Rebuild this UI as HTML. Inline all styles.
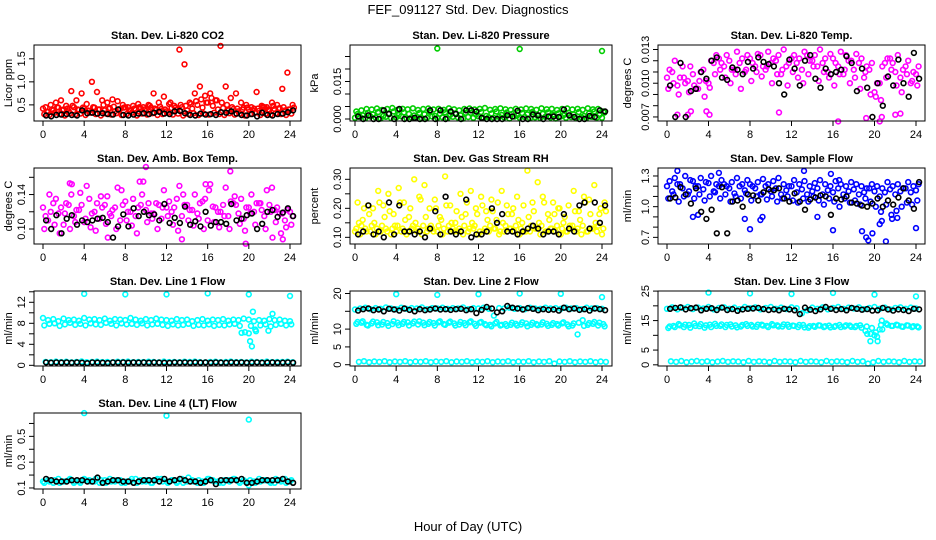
<!DOCTYPE html>
<html><head><meta charset="utf-8"><style>
html,body{margin:0;padding:0;background:#fff;}
svg{display:block;font-family:"Liberation Sans",Arial,sans-serif;}
</style></head><body>
<svg id="chart" width="936" height="540" viewBox="0 0 936 540">
<text x="468" y="14" font-size="13" text-anchor="middle">FEF_091127  Std. Dev. Diagnostics</text>
<text x="468" y="531" font-size="13" text-anchor="middle">Hour of Day (UTC)</text>
</svg>
<script>
// ---- data (values every 0.5 h per array) ----
const xTicks=[0,4,8,12,16,20,24];
const co2A=[0.42,0.35,0.38,0.44,0.40,0.36,0.45,0.39,0.42,0.37,0.44,0.40,0.38,0.43,0.36,0.41,0.45,0.38,0.40,0.42,0.37,0.44,0.39,0.41,0.36,0.43,0.40,0.45,0.38,0.42,0.50,0.44,0.55,0.48,0.40,0.43,0.38,0.41,0.36,0.44,0.40,0.42,0.37,0.45,0.39,0.41,0.43,0.38,0.40];
const co2B=[0.30,0.28,0.33,0.30,0.27,0.32,0.29,0.31,0.28,0.33,0.30,0.27,0.31,0.29,0.32,0.28,0.30,0.33,0.27,0.31,0.29,0.32,0.28,0.30,0.33,0.29,0.31,0.27,0.30,0.32,0.28,0.31,0.29,0.33,0.30,0.28,0.32,0.29,0.31,0.27,0.30,0.33,0.28,0.31,0.29,0.32,0.30,0.28,0.31];
const co2C=[0.45,0.50,0.55,0.60,0.48,0.80,0.60,0.75,0.52,1.00,0.78,0.60,0.55,0.62,0.58,0.50,0.45,0.48,0.52,0.45,0.50,0.75,0.55,0.68,0.52,0.48,1.70,1.38,0.55,0.75,0.90,0.70,0.75,0.60,1.78,0.90,0.65,0.75,0.55,0.50,0.45,0.78,0.48,0.45,0.55,0.50,0.85,1.20,0.50];
const co2D=[0.35,0.40,0.45,0.38,0.42,0.48,0.40,0.44,0.38,0.45,0.40,0.50,0.42,0.46,0.40,0.44,0.38,0.42,0.45,0.40,0.48,0.42,0.46,0.40,0.55,0.44,0.50,0.48,0.52,0.58,0.62,0.55,0.65,0.60,0.55,0.50,0.45,0.42,0.40,0.44,0.38,0.42,0.46,0.40,0.48,0.42,0.45,0.40,0.44];
const co2K=[0.27,0.25,0.28,0.29,0.30,0.28,0.27,0.38,0.32,0.33,0.31,0.32,0.30,0.29,0.40,0.28,0.27,0.29,0.31,0.32,0.30,0.33,0.35,0.31,0.30,0.36,0.37,0.32,0.28,0.27,0.31,0.29,0.30,0.28,0.34,0.33,0.36,0.31,0.28,0.27,0.30,0.25,0.33,0.28,0.27,0.30,0.31,0.34,0.38];
const co2Ticks=[0.5,1.0,1.5], co2Labels=["0.5","1.0","1.5"];

const prA=[0.0005,0.0008,0.0003,0.0010,0.0006,0.0002,0.0009,0.0004,0.0007,0.0011,0.0003,0.0006,0.0008,0.0002,0.0005,0.0010,0.0004,0.0007,0.0003,0.0009,0.0006,0.0002,0.0008,0.0005,0.0011,0.0003,0.0007,0.0004,0.0009,0.0006,0.0002,0.0010,0.0005,0.0008,0.0003,0.0007,0.0004,0.0009,0.0006,0.0002,0.0010,0.0005,0.0008,0.0003,0.0007,0.0004,0.0009,0.0006,0.0005];
const prB=[0.0030,0.0035,0.0040,0.0038,0.0042,0.0036,0.0040,0.0044,0.0037,0.0041,0.0039,0.0043,0.0036,0.0040,0.0042,0.0038,0.0041,0.0037,0.0043,0.0039,0.0035,0.0040,0.0042,0.0038,0.0041,0.0044,0.0037,0.0040,0.0043,0.0039,0.0036,0.0041,0.0038,0.0042,0.0040,0.0037,0.0043,0.0039,0.0041,0.0036,0.0040,0.0042,0.0038,0.0041,0.0037,0.0043,0.0039,0.0040,0.0030];
const prC=[0.0020,0.0015,0.0025,0.0018,0.0028,0.0012,0.0022,0.0030,0.0016,0.0026,0.0020,0.0014,0.0024,0.0019,0.0029,0.0013,0.0021,0.0027,0.0017,0.0023,0.0015,0.0025,0.0025,0.0018,0.0028,0.0012,0.0022,0.0030,0.0016,0.0026,0.0020,0.0014,0.0024,0.0019,0.0029,0.0013,0.0021,0.0027,0.0017,0.0023,0.0015,0.0025,0.0018,0.0028,0.0012,0.0022,0.0030,0.0016,0.0026];
const prK=[0.0010,0.0000,0.0015,0.0000,0.0000,0.0035,0.0020,0.0000,0.0040,0.0000,0.0000,0.0005,0.0000,0.0000,0.0035,0.0000,0.0035,0.0000,0.0030,0.0020,0.0000,0.0035,0.0035,0.0030,0.0005,0.0000,0.0000,0.0000,0.0000,0.0015,0.0010,0.0033,0.0000,0.0000,0.0018,0.0015,0.0000,0.0010,0.0010,0.0008,0.0038,0.0015,0.0008,0.0000,0.0000,0.0012,0.0008,0.0035,0.0030];
const prOutT=[8,16,24], prOutV=[0.0282,0.0280,0.0272];
const prTicks=[0,0.005,0.010,0.015,0.020,0.025], prLabels=["0.000","","","0.015","",""];

const ltA=[0.0105,0.0110,0.0098,0.0115,0.0102,0.0108,0.0095,0.0112,0.0100,0.0118,0.0122,0.0115,0.0120,0.0112,0.0118,0.0110,0.0122,0.0115,0.0125,0.0112,0.0118,0.0120,0.0108,0.0115,0.0122,0.0118,0.0112,0.0125,0.0120,0.0115,0.0118,0.0110,0.0122,0.0115,0.0108,0.0120,0.0112,0.0118,0.0105,0.0112,0.0092,0.0100,0.0118,0.0122,0.0110,0.0105,0.0115,0.0100,0.0108];
const ltB=[0.0095,0.0100,0.0090,0.0105,0.0092,0.0098,0.0102,0.0088,0.0096,0.0108,0.0112,0.0105,0.0100,0.0108,0.0095,0.0112,0.0102,0.0110,0.0106,0.0115,0.0100,0.0108,0.0112,0.0098,0.0110,0.0105,0.0100,0.0108,0.0115,0.0102,0.0110,0.0105,0.0098,0.0108,0.0112,0.0100,0.0105,0.0095,0.0110,0.0090,0.0088,0.0085,0.0105,0.0112,0.0098,0.0092,0.0108,0.0102,0.0098];
const ltC=[0.0112,0.0120,0.0105,0.0100,0.0115,0.0095,0.0110,0.0102,0.0120,0.0125,0.0118,0.0125,0.0112,0.0128,0.0122,0.0125,0.0118,0.0126,0.0115,0.0128,0.0122,0.0125,0.0130,0.0118,0.0125,0.0122,0.0128,0.0120,0.0125,0.0130,0.0122,0.0126,0.0118,0.0128,0.0125,0.0120,0.0126,0.0122,0.0115,0.0118,0.0100,0.0115,0.0122,0.0118,0.0125,0.0112,0.0120,0.0110,0.0115];
const ltK=[0.0098,0.0070,0.0118,0.0070,0.0093,0.0095,0.0110,0.0104,0.0120,0.0123,0.0105,0.0103,0.0114,0.0112,0.0108,0.0119,0.0113,0.0123,0.0119,0.0117,0.0115,0.0100,0.0090,0.0121,0.0113,0.0098,0.0120,0.0125,0.0104,0.0096,0.0113,0.0108,0.0110,0.0112,0.0124,0.0118,0.0093,0.0113,0.0096,0.0070,0.0100,0.0080,0.0106,0.0098,0.0121,0.0100,0.0088,0.0127,0.0104];
const ltOutT=[1.0,2.0,2.3,3.8,4.1,10.8,16.5,19.2,20.5,20.7,22.0,22.5], ltOutV=[0.0072,0.0072,0.0075,0.0075,0.0072,0.0074,0.0066,0.0069,0.0066,0.0070,0.0072,0.0073];
const ltTicks=[0.007,0.008,0.009,0.010,0.011,0.012,0.013], ltLabels=["0.007","","","0.010","","","0.013"];

const abA=[0.125,0.110,0.130,0.118,0.105,0.128,0.115,0.122,0.108,0.135,0.120,0.112,0.128,0.118,0.125,0.110,0.132,0.120,0.115,0.128,0.122,0.118,0.130,0.112,0.125,0.120,0.135,0.115,0.128,0.122,0.118,0.132,0.110,0.126,0.120,0.128,0.115,0.130,0.118,0.112,0.125,0.120,0.130,0.115,0.128,0.122,0.118,0.110,0.120];
const abB=[0.100,0.140,0.105,0.095,0.118,0.100,0.108,0.142,0.112,0.102,0.098,0.138,0.106,0.115,0.100,0.145,0.110,0.104,0.095,0.140,0.108,0.112,0.100,0.125,0.115,0.105,0.098,0.140,0.110,0.104,0.112,0.100,0.145,0.108,0.102,0.115,0.100,0.138,0.106,0.098,0.118,0.105,0.130,0.100,0.120,0.108,0.095,0.102,0.105];
const abC=[0.115,0.120,0.135,0.125,0.130,0.140,0.122,0.128,0.150,0.118,0.130,0.125,0.138,0.122,0.148,0.128,0.120,0.135,0.125,0.155,0.130,0.118,0.128,0.145,0.132,0.125,0.150,0.128,0.122,0.140,0.130,0.135,0.152,0.125,0.120,0.148,0.132,0.128,0.135,0.125,0.140,0.130,0.122,0.145,0.148,0.125,0.118,0.122,0.115];
const abK=[0.110,0.100,0.116,0.095,0.112,0.116,0.105,0.110,0.108,0.110,0.112,0.113,0.108,0.090,0.103,0.117,0.103,0.124,0.115,0.120,0.116,0.117,0.110,0.129,0.107,0.113,0.107,0.126,0.105,0.109,0.103,0.120,0.104,0.108,0.108,0.106,0.129,0.110,0.112,0.116,0.118,0.100,0.106,0.120,0.122,0.114,0.119,0.124,0.115];
const abOutT=[2.6,2.8,9.4,10.0,18.2,15.8,6.3,13.5,19.7,22.3,23.3], abOutV=[0.153,0.152,0.155,0.172,0.167,0.152,0.090,0.088,0.083,0.090,0.088];
const abTicks=[0.10,0.12,0.14,0.16], abLabels=["0.10","","0.14",""];

const rhA=[0.12,0.11,0.13,0.12,0.11,0.12,0.13,0.11,0.12,0.12,0.11,0.13,0.12,0.11,0.12,0.13,0.12,0.11,0.12,0.13,0.12,0.11,0.12,0.13,0.11,0.12,0.12,0.13,0.11,0.12,0.13,0.12,0.11,0.12,0.12,0.13,0.11,0.12,0.13,0.12,0.11,0.12,0.13,0.12,0.11,0.12,0.13,0.12,0.11];
const rhB=[0.13,0.14,0.12,0.14,0.13,0.14,0.12,0.13,0.14,0.13,0.12,0.14,0.13,0.14,0.13,0.12,0.14,0.13,0.14,0.12,0.13,0.14,0.13,0.14,0.12,0.13,0.14,0.13,0.12,0.14,0.13,0.14,0.13,0.12,0.14,0.13,0.14,0.12,0.13,0.14,0.13,0.12,0.14,0.13,0.14,0.12,0.13,0.14,0.13];
const rhC=[0.22,0.16,0.21,0.20,0.26,0.21,0.25,0.18,0.27,0.22,0.17,0.30,0.24,0.28,0.20,0.23,0.17,0.31,0.21,0.15,0.25,0.18,0.26,0.20,0.24,0.19,0.23,0.16,0.26,0.21,0.18,0.24,0.15,0.33,0.22,0.29,0.24,0.18,0.22,0.20,0.15,0.21,0.26,0.19,0.24,0.23,0.28,0.18,0.22];
const rhD=[0.15,0.20,0.18,0.15,0.22,0.17,0.19,0.14,0.22,0.16,0.20,0.15,0.23,0.17,0.14,0.20,0.16,0.21,0.15,0.19,0.17,0.22,0.15,0.18,0.21,0.16,0.19,0.22,0.15,0.18,0.20,0.16,0.21,0.17,0.19,0.15,0.22,0.16,0.18,0.20,0.17,0.14,0.19,0.16,0.22,0.18,0.15,0.20,0.19];
const rhK=[0.11,0.12,0.21,0.11,0.12,0.10,0.22,0.11,0.21,0.12,0.12,0.11,0.12,0.10,0.13,0.19,0.11,0.24,0.12,0.11,0.12,0.23,0.10,0.11,0.11,0.12,0.20,0.15,0.18,0.12,0.12,0.11,0.12,0.13,0.14,0.13,0.11,0.12,0.12,0.11,0.18,0.13,0.12,0.21,0.22,0.13,0.22,0.15,0.21];
const rhTicks=[0.10,0.15,0.20,0.25,0.30], rhLabels=["0.10","","0.20","","0.30"];

const sfA=[1.20,1.15,1.22,1.18,1.12,1.25,1.20,1.17,1.23,1.15,1.20,1.22,1.18,1.13,1.20,1.16,1.22,1.18,1.12,1.20,1.15,1.18,1.12,1.16,1.20,1.14,1.17,1.12,1.15,1.18,1.12,1.16,1.14,1.18,1.12,1.15,1.17,1.12,1.14,1.18,1.15,1.10,1.14,1.17,1.12,1.15,1.18,1.14,1.16];
const sfB=[1.08,1.12,1.05,1.10,1.15,1.08,1.12,1.06,1.10,1.14,1.08,1.12,1.05,1.10,1.08,1.13,1.06,1.10,1.12,1.07,1.10,1.05,1.08,1.10,1.06,1.04,1.08,1.05,1.10,1.06,1.02,1.08,1.05,1.00,1.08,1.04,1.06,1.02,1.08,1.05,1.00,0.95,1.02,0.92,0.96,1.00,1.04,1.02,1.06];
const sfC=[1.25,1.28,1.22,1.30,1.26,1.20,1.28,1.24,1.30,1.22,1.26,1.20,1.24,1.28,1.22,1.26,1.20,1.24,1.27,1.22,1.25,1.28,1.22,1.20,1.26,1.22,1.25,1.20,1.23,1.26,1.22,1.20,1.25,1.22,1.20,1.24,1.22,1.20,1.18,1.22,1.20,1.18,1.24,1.20,1.22,1.18,1.24,1.20,1.22];
const sfK=[1.08,1.09,1.19,1.12,1.03,1.18,0.95,0.88,0.97,0.74,1.19,0.74,1.05,1.06,1.00,1.12,1.11,1.06,1.14,1.17,1.16,1.18,1.08,1.05,1.13,1.05,0.97,1.07,1.09,1.11,1.10,0.92,1.08,1.07,1.10,1.04,1.03,1.01,1.00,1.03,1.08,1.00,1.06,1.02,1.09,1.18,1.06,0.98,1.24];
const sfOutT=[1.0,2.5,3.0,5.0,7.5,8.0,9.0,9.2,13.2,14.5,15.8,16.0,16.6,18.8,19.2,19.4,19.8,20.5,20.7,21.1,21.7,22.2,24.0], sfOutV=[1.35,0.90,0.92,1.33,0.88,0.78,0.87,0.90,1.35,0.90,1.32,0.77,1.26,0.76,0.70,0.67,0.74,0.83,0.86,0.66,0.88,0.89,0.79];
const sfTicks=[0.7,0.8,0.9,1.0,1.1,1.2,1.3], sfLabels=["0.7","","","1.0","","","1.3"];

const l1A=[9.0,8.6,8.8,8.4,8.9,8.6,8.7,8.5,9.0,8.7,8.8,8.6,8.9,8.5,8.8,8.7,8.6,9.0,8.7,8.5,8.8,8.6,8.9,8.7,8.6,8.5,8.8,8.6,8.7,8.4,8.6,8.8,8.5,8.7,8.6,8.8,8.5,8.7,8.6,8.9,8.7,8.4,8.6,8.5,8.8,8.6,8.7,8.5,8.4];
const l1B=[7.6,7.9,8.0,7.5,7.8,8.1,7.7,7.9,7.6,8.0,7.8,7.7,8.1,7.9,7.6,8.0,7.8,7.9,7.7,8.0,7.6,7.8,7.9,7.7,7.5,7.8,7.6,7.7,7.9,7.5,7.7,7.6,7.8,7.5,7.7,7.6,7.8,7.9,7.5,6.3,4.6,6.8,7.6,7.8,7.4,7.7,7.9,7.6,7.8];
const l1C=[0.65,0.60,0.70,0.62,0.68,0.58,0.66,0.72,0.60,0.64,0.70,0.62,0.66,0.58,0.68,0.64,0.70,0.60,0.66,0.62,0.68,0.64,0.58,0.70,0.62,0.66,0.60,0.68,0.64,0.70,0.62,0.58,0.66,0.68,0.60,0.64,0.70,0.62,0.66,0.58,0.68,0.64,0.60,0.70,0.62,0.66,0.64,0.68,0.60];
const l1K=[0.55,0.50,0.55,0.52,0.55,0.50,0.56,0.50,0.40,0.55,0.52,0.50,0.45,0.55,0.52,0.55,0.50,0.55,0.52,0.56,0.50,0.55,0.52,0.50,0.48,0.55,0.52,0.55,0.50,0.55,0.52,0.56,0.50,0.55,0.52,0.50,0.55,0.52,0.55,0.50,0.52,0.55,0.50,0.52,0.55,0.50,0.52,0.55,0.50];
const l1OutT=[4,8,12,16,20,24,19.3,20.0,20.3,20.4,20.7,21.9,22.3,20.2], l1OutV=[13.6,13.5,13.5,13.7,13.5,13.2,6.2,6.1,3.6,10.2,6.5,6.6,9.8,7.5];
const l1Ticks=[0,2,4,6,8,10,12,14], l1Labels=["0","","4","","8","","12",""];

const l2A=[15.5,15.8,16.0,15.6,15.9,15.7,16.1,15.8,15.6,16.0,15.7,15.9,15.8,16.1,15.6,15.9,15.8,16.0,15.7,15.9,15.8,16.1,15.6,15.9,15.8,16.0,15.7,13.8,15.9,15.8,16.0,15.7,15.9,15.6,16.0,15.8,15.7,16.0,15.8,15.9,15.7,16.0,15.8,15.9,15.6,16.0,15.8,15.9,15.7];
const l2B=[11.5,11.8,11.2,11.6,11.9,11.3,11.7,11.4,11.8,11.5,11.9,11.6,11.3,11.8,11.5,11.7,11.9,11.4,11.8,11.6,11.3,11.7,11.9,11.5,11.8,11.4,11.2,11.6,11.0,11.4,11.2,11.5,11.3,11.6,11.2,11.4,11.3,11.5,11.2,11.4,11.6,11.3,11.0,8.5,12.5,11.2,11.5,11.0,11.4];
const l2C=[12.0,12.2,11.0,12.1,11.1,12.0,10.9,12.2,11.1,12.0,11.0,12.1,12.2,11.1,12.0,11.0,12.2,11.2,12.1,11.0,12.0,11.1,12.2,10.9,12.0,11.1,10.8,12.0,11.2,10.9,11.8,11.0,11.9,10.8,11.8,11.1,11.9,10.9,11.7,11.0,11.9,10.8,11.6,11.8,10.9,11.7,12.0,11.8,10.8];
const l2D=[0.8,1.0,0.7,0.9,0.8,1.0,0.7,0.9,0.8,1.0,0.7,0.9,0.8,1.0,0.7,0.9,0.8,1.0,0.7,0.9,0.8,1.0,0.7,0.9,0.8,1.0,0.7,0.9,0.8,1.0,0.7,0.9,0.8,1.0,0.7,0.9,0.8,1.0,0.3,0.9,0.8,1.0,0.7,0.9,0.8,1.0,0.7,0.9,0.8];
const l2K=[15.2,15.6,15.8,15.3,15.5,15.0,15.7,15.5,15.2,15.8,15.4,15.0,15.6,15.3,15.5,15.8,15.5,15.6,15.4,15.6,15.7,15.3,15.6,14.5,15.4,16.2,15.8,14.7,15.0,16.5,16.0,15.8,15.5,15.9,15.7,15.3,15.6,15.4,15.5,15.2,16.0,15.6,15.8,15.4,15.6,15.2,15.8,15.6,15.3];
const l2OutT=[4,8,12,16,20,24], l2OutV=[19.8,19.6,19.8,20.0,19.9,19.0];
const l2Ticks=[0,5,10,15,20], l2Labels=["0","5","10","","20"];

const l3A=[19.0,19.5,18.8,19.3,19.6,18.9,19.4,19.1,19.6,18.8,19.3,19.5,19.0,19.4,18.9,19.6,19.2,19.5,18.8,19.3,19.6,19.0,19.4,18.9,19.5,19.2,17.5,18.5,19.4,19.0,19.5,18.8,19.3,19.6,19.0,19.4,19.1,19.5,18.9,19.3,19.6,19.0,19.4,18.8,19.3,19.5,19.0,19.4,19.1];
const l3B=[12.5,13.2,13.8,12.8,13.5,14.0,13.1,12.6,13.6,13.9,13.2,12.8,13.7,13.4,13.0,13.8,13.5,12.9,13.6,13.2,13.8,13.4,13.0,13.6,13.3,12.8,13.5,12.6,13.2,13.4,12.8,13.3,12.9,13.5,13.0,13.3,12.8,13.4,11.5,10.5,11.0,13.5,14.0,13.2,13.6,13.0,13.4,12.8,13.0];
const l3C=[13.0,12.8,13.4,13.6,12.6,13.2,13.8,13.4,12.8,13.2,13.7,13.5,13.0,12.7,13.5,13.2,13.0,13.6,13.3,12.8,13.4,13.0,13.7,12.9,13.2,13.5,12.7,13.1,12.9,13.3,13.1,12.7,13.2,12.8,13.4,12.9,13.2,12.6,13.0,12.5,9.5,12.0,13.6,13.2,13.4,12.9,13.3,13.1,12.7];
const l3D=[1.2,1.0,1.3,0.9,1.1,1.3,1.0,1.2,0.9,1.1,1.3,1.0,1.2,1.1,0.9,1.3,1.0,1.2,1.1,0.9,1.3,1.0,1.2,1.1,0.9,1.3,1.0,1.2,1.1,0.9,1.3,1.0,1.2,1.1,0.9,1.3,1.0,1.2,0.4,0.9,1.3,1.0,1.2,1.1,0.9,1.3,1.0,1.2,1.1];
const l3K=[19.0,19.3,19.5,18.8,19.2,19.4,18.5,19.0,19.2,18.6,19.4,18.6,18.9,18.3,18.8,19.0,19.1,19.3,18.9,18.6,18.8,18.5,19.0,18.8,18.5,17.2,19.4,18.7,18.2,18.8,19.6,19.0,18.6,18.9,18.5,19.3,19.0,18.7,18.9,18.4,18.5,19.3,18.8,18.4,18.8,18.6,18.2,19.0,18.8];
const l3OutT=[4,8,12,16,20,24,19.3,19.6,20.0,20.3,20.5,20.7], l3OutV=[24.5,24.2,24.0,24.4,23.8,23.2,10.5,8.0,10.0,8.0,12.0,15.0];
const l3Ticks=[0,5,10,15,20,25], l3Labels=["0","5","","15","","25"];

const l4A=[0.15,0.16,0.14,0.17,0.15,0.16,0.14,0.15,0.17,0.16,0.15,0.14,0.16,0.17,0.15,0.16,0.14,0.15,0.17,0.16,0.15,0.14,0.16,0.17,0.15,0.16,0.14,0.17,0.15,0.16,0.14,0.15,0.17,0.16,0.15,0.14,0.16,0.17,0.15,0.16,0.12,0.15,0.17,0.16,0.15,0.14,0.16,0.17,0.15];
const l4B=[0.14,0.15,0.16,0.14,0.15,0.17,0.15,0.14,0.16,0.15,0.17,0.16,0.14,0.15,0.16,0.14,0.15,0.17,0.14,0.15,0.16,0.14,0.17,0.15,0.14,0.16,0.15,0.14,0.18,0.15,0.16,0.14,0.17,0.15,0.14,0.16,0.15,0.17,0.14,0.15,0.16,0.14,0.15,0.16,0.14,0.17,0.15,0.14,0.16];
const l4K=[0.17,0.16,0.15,0.15,0.15,0.16,0.16,0.16,0.15,0.15,0.18,0.14,0.15,0.16,0.16,0.15,0.15,0.14,0.15,0.16,0.16,0.16,0.15,0.17,0.15,0.16,0.17,0.16,0.15,0.15,0.14,0.15,0.16,0.13,0.16,0.16,0.16,0.16,0.17,0.14,0.14,0.15,0.16,0.16,0.16,0.16,0.17,0.15,0.14];
const l4OutT=[4,12,20], l4OutV=[0.68,0.66,0.63];
const l4Ticks=[0.1,0.2,0.3,0.4,0.5,0.6], l4Labels=["0.1","","0.3","","0.5",""];

// ---- layout ----
const COLS=[{l:34,r:301,x0:43,x24:290,yt:12},{l:350,r:612,x0:355,x24:602,yt:318},{l:658,r:925,x0:667,x24:916,yt:631}];
const ROWS=[{t:45,b:121},{t:168,b:244},{t:291,b:366},{t:413,b:489}];
const RED="#ff0000",GRN="#00cd00",MAG="#ff00ff",YEL="#ffff00",BLU="#0000ff",CYN="#00ffff";
const panels=[
 {name:"co2",title:"Stan. Dev. Li-820 CO2",ylab:"Licor ppm",c:0,r:0,ymin:0.15,ymax:1.80,ticks:co2Ticks,labels:co2Labels,col:RED,series:[co2A,co2B,co2C,co2D],k:co2K},
 {name:"pressure",title:"Stan. Dev. Li-820 Pressure",ylab:"kPa",c:1,r:0,ymin:-0.0008,ymax:0.0296,ticks:prTicks,labels:prLabels,col:GRN,series:[prA,prB,prC],k:prK,ot:prOutT,ov:prOutV},
 {name:"li820-temp",title:"Stan. Dev. Li-820 Temp.",ylab:"degrees C",c:2,r:0,ymin:0.00664,ymax:0.0134,ticks:ltTicks,labels:ltLabels,col:MAG,series:[ltA,ltB,ltC],k:ltK,ot:ltOutT,ov:ltOutV},
 {name:"amb-box-temp",title:"Stan. Dev. Amb. Box Temp.",ylab:"degrees C",c:0,r:1,ymin:0.0826,ymax:0.1708,ticks:abTicks,labels:abLabels,col:MAG,series:[abA,abB,abC],k:abK,ot:abOutT,ov:abOutV},
 {name:"gas-stream-rh",title:"Stan. Dev. Gas Stream RH",ylab:"percent",c:1,r:1,ymin:0.077,ymax:0.339,ticks:rhTicks,labels:rhLabels,col:YEL,series:[rhA,rhB,rhC,rhD],k:rhK},
 {name:"sample-flow",title:"Stan. Dev. Sample Flow",ylab:"ml/min",c:2,r:1,ymin:0.635,ymax:1.378,ticks:sfTicks,labels:sfLabels,col:BLU,series:[sfA,sfB,sfC],k:sfK,ot:sfOutT,ov:sfOutV},
 {name:"line1-flow",title:"Stan. Dev. Line 1 Flow",ylab:"ml/min",c:0,r:2,ymin:-0.13,ymax:14.15,ticks:l1Ticks,labels:l1Labels,col:CYN,series:[l1A,l1B,l1C],k:l1K,ot:l1OutT,ov:l1OutV},
 {name:"line2-flow",title:"Stan. Dev. Line 2 Flow",ylab:"ml/min",c:1,r:2,ymin:-0.36,ymax:20.7,ticks:l2Ticks,labels:l2Labels,col:CYN,series:[l2A,l2B,l2C,l2D],k:l2K,ot:l2OutT,ov:l2OutV},
 {name:"line3-flow",title:"Stan. Dev. Line 3 Flow",ylab:"ml/min",c:2,r:2,ymin:-0.4,ymax:25.03,ticks:l3Ticks,labels:l3Labels,col:CYN,series:[l3A,l3B,l3C,l3D],k:l3K,ot:l3OutT,ov:l3OutV},
 {name:"line4-flow",title:"Stan. Dev. Line 4 (LT) Flow",ylab:"ml/min",c:0,r:3,ymin:0.092,ymax:0.681,ticks:l4Ticks,labels:l4Labels,col:CYN,series:[l4A,l4B],k:l4K,ot:l4OutT,ov:l4OutV}
];
const NS="http://www.w3.org/2000/svg";
const svg=document.getElementById("chart");
function mk(tag,attrs,parent){const e=document.createElementNS(NS,tag);for(const a in attrs)e.setAttribute(a,attrs[a]);parent.appendChild(e);return e;}
const OFFS=[0,0.125,0.25,0.375];
panels.forEach(p=>{
  const C=COLS[p.c],R=ROWS[p.r];
  const xs=t=>C.x0+(C.x24-C.x0)*t/24;
  const ys=v=>R.b-(R.b-R.t)*(v-p.ymin)/(p.ymax-p.ymin);
  const g=mk("g",{},svg);
  
  
  const ttl=mk("text",{x:(C.l+C.r)/2,y:R.t-6,"font-size":11,"font-weight":"bold","text-anchor":"middle"},g);
  ttl.textContent=p.title;
  
  
  const yl=mk("text",{x:C.yt,y:(R.t+R.b)/2,"font-size":11,"text-anchor":"middle",transform:`rotate(-90 ${C.yt} ${(R.t+R.b)/2})`},g);
  yl.textContent=p.ylab;
  
  
  const pts=mk("g",{fill:"none","stroke-width":1.6},g);
  
  
  p.series.forEach((arr,si)=>{
    arr.forEach((v,i)=>{
      const c=mk("circle",{cx:xs(i*0.5+OFFS[si%4]).toFixed(1),cy:ys(v).toFixed(1),r:2.4,stroke:p.col},pts);
      
      
    });
  });
  if(p.ot){p.ot.forEach((t,i)=>{
    const c=mk("circle",{cx:xs(t).toFixed(1),cy:ys(p.ov[i]).toFixed(1),r:2.4,stroke:p.col},pts);
    
    
  });}
  p.k.forEach((v,i)=>{
    const c=mk("circle",{cx:xs(i*0.5+0.3).toFixed(1),cy:ys(v).toFixed(1),r:2.4,stroke:"#000"},pts);
    
    
  });
  const box=mk("rect",{x:C.l,y:R.t,width:C.r-C.l,height:R.b-R.t,fill:"none",stroke:"#000","stroke-width":1},g);
  
  
  const xa=mk("g",{},g);
  
  
  xTicks.forEach(t=>{
    const x=xs(t);
    mk("line",{x1:x,x2:x,y1:R.b,y2:R.b+5,stroke:"#000"},xa);
    const tx=mk("text",{x:x,y:R.b+17,"font-size":11,"text-anchor":"middle"},xa);
    tx.textContent=t;
  });
  const ya=mk("g",{},g);
  
  
  p.ticks.forEach((v,i)=>{
    const y=ys(v);
    mk("line",{x1:C.l-5,x2:C.l,y1:y,y2:y,stroke:"#000"},ya);
    if(p.labels[i]){
      const lx=C.l-9;
      const tx=mk("text",{x:lx,y:y,"font-size":11,"text-anchor":"middle",transform:`rotate(-90 ${lx} ${y})`},ya);
      tx.textContent=p.labels[i];
    }
  });
});
</script>
</body></html>
